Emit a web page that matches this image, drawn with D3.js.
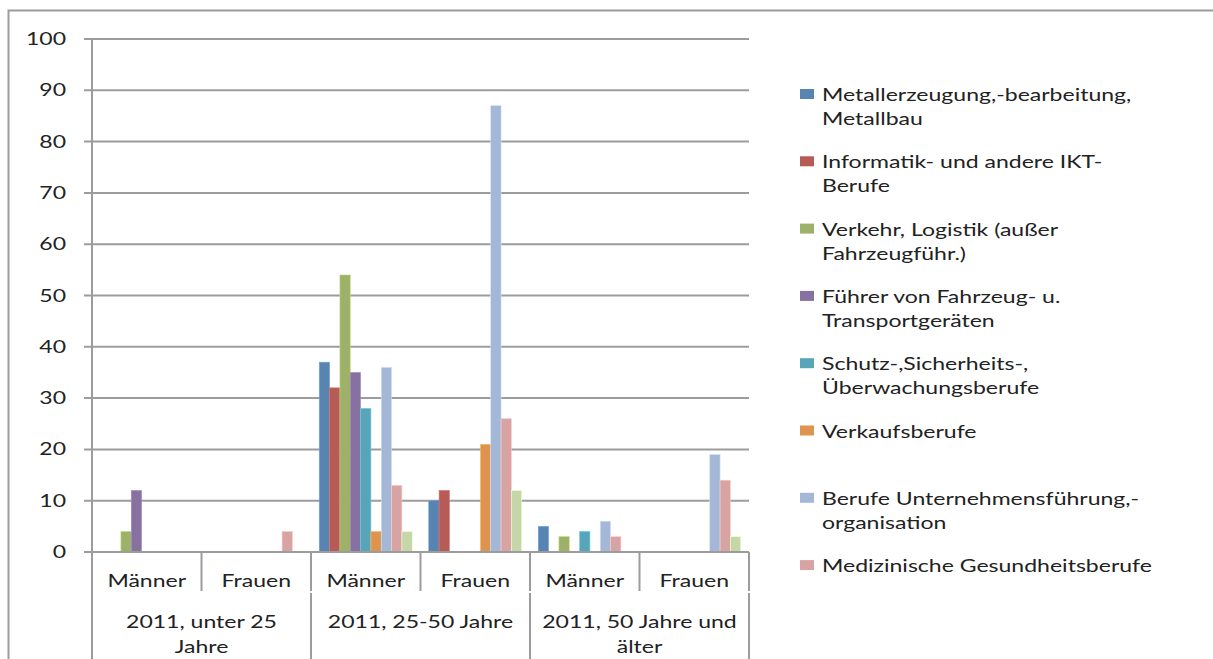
<!DOCTYPE html>
<html><head><meta charset="utf-8">
<script src="https://cdn.jsdelivr.net/npm/d3@7"></script>
<style>body{margin:0;background:#fff}svg{display:block}text{font-family:Lato,"Open Sans",sans-serif;fill:#222}</style>
</head><body><svg id="c" width="1213" height="659"></svg>
<script>
const groups = ["2011, unter 25|Jahre", "2011, 25-50 Jahre", "2011, 50 Jahre und|älter"];
const sexes = ["Männer", "Frauen"];
const series = ["Metallerzeugung,-bearbeitung,|Metallbau","Informatik- und andere IKT-|Berufe","Verkehr, Logistik (außer|Fahrzeugführ.)","Führer von Fahrzeug- u.|Transportgeräten","Schutz-,Sicherheits-,|Überwachungsberufe","Verkaufsberufe","Berufe Unternehmensführung,-|organisation","Medizinische Gesundheitsberufe","(ohne Legende)"];
const colors = ["#5884b1","#b75b57","#9db168","#8771a0","#57a5b9","#de944f","#a4b7d6","#d8a4a3","#c5d6a9"];
const showInLegend = [true,true,true,true,true,true,true,true,false];
// values per subcategory (group x sex), per series; null = no bar
const vU25M = [null,null,4,12,null,null,null,null,null];
const vU25F = [null,null,null,null,null,null,null,4,null];
const v2550M = [37,32,54,35,28,4,36,13,4];
const v2550F = [10,12,null,null,null,21,87,26,12];
const v50M = [5,null,3,null,4,null,6,3,null];
const v50F = [null,null,null,null,null,null,19,14,3];
const yTicks = [0,10,20,30,40,50,60,70,80,90,100];

const values = [vU25M,vU25F,v2550M,v2550F,v50M,v50F];
const cats = [];
groups.forEach((g,gi)=>sexes.forEach((s,si)=>cats.push({key:gi+"-"+s,sex:s,gi})));

const svg = d3.select("#c");
const L=92, R=749, T=39, B=552;
const y = d3.scaleLinear().domain([0,100]).range([B,T]);
const x = d3.scaleBand().domain(cats.map(c=>c.key)).range([L,R]).padding(0);
const xs = d3.scaleBand().domain(series.map((s,i)=>i)).range([0,x.bandwidth()]).paddingInner(0).paddingOuter(0.8);
const grey="#9c9c9c";

// text horizontal stretch
const SX = 1.28;
function txt(g, xpos, ypos, str, anchor){
  return g.append("text").attr("transform",`translate(${xpos},${ypos}) scale(${SX},1)`)
    .attr("text-anchor",anchor||"start").attr("font-size",18).text(str);
}

// outer border
svg.append("path").attr("d","M8.5,700 V10.5 H1300").attr("fill","none").attr("stroke",grey).attr("stroke-width",2);

// gridlines + ticks
const gg = svg.append("g");
yTicks.forEach(t=>{
  gg.append("line").attr("x1",84).attr("x2",R).attr("y1",y(t)).attr("y2",y(t)).attr("stroke",grey).attr("stroke-width",2);
  txt(gg,66,y(t)+6,String(t),"end");
});
// y axis line
gg.append("line").attr("x1",L).attr("x2",L).attr("y1",T).attr("y2",659).attr("stroke",grey).attr("stroke-width",2);

// bars
const bars = svg.append("g");
cats.forEach((c,ci)=>{
  values[ci].forEach((v,si)=>{
    if(v==null) return;
    bars.append("rect").attr("x",x(c.key)+xs(si)).attr("width",xs.bandwidth())
      .attr("y",y(v)).attr("height",y(0)-y(v)).attr("fill",colors[si])
      .attr("stroke",d3.color(colors[si]).brighter(0.6)).attr("stroke-width",0.6);
  });
});

// category axis
const ax = svg.append("g");
ax.append("line").attr("x1",84).attr("x2",R).attr("y1",B).attr("y2",B).attr("stroke",grey).attr("stroke-width",2);
cats.forEach((c,ci)=>{
  const x0=x(c.key), x1=x0+x.bandwidth();
  txt(ax,(x0+x1)/2,587,c.sex,"middle");
  if(c.sex==="Männer"){
    ax.append("line").attr("x1",x1).attr("x2",x1).attr("y1",B).attr("y2",591).attr("stroke",grey).attr("stroke-width",2);
  } else {
    ax.append("line").attr("x1",x1).attr("x2",x1).attr("y1",B).attr("y2",591).attr("stroke",grey).attr("stroke-width",2);
    ax.append("line").attr("x1",x1).attr("x2",x1).attr("y1",593).attr("y2",659).attr("stroke",grey).attr("stroke-width",2);
  }
});
groups.forEach((g,gi)=>{
  const x0=x(gi+"-Männer"), x1=x(gi+"-Frauen")+x.bandwidth();
  g.split("|").forEach((line,li)=>txt(ax,(x0+x1)/2,628+li*25,line,"middle"));
});

// legend
const lg = svg.append("g");
let k=0;
series.forEach((s,i)=>{
  if(!showInLegend[i]) return;
  const yy = 101 + k*67.3; k++;
  lg.append("rect").attr("x",800).attr("y",yy-12).attr("width",14).attr("height",10).attr("fill",colors[i]);
  s.split("|").forEach((line,li)=>txt(lg,822,yy+li*24,line));
});
</script></body></html>
